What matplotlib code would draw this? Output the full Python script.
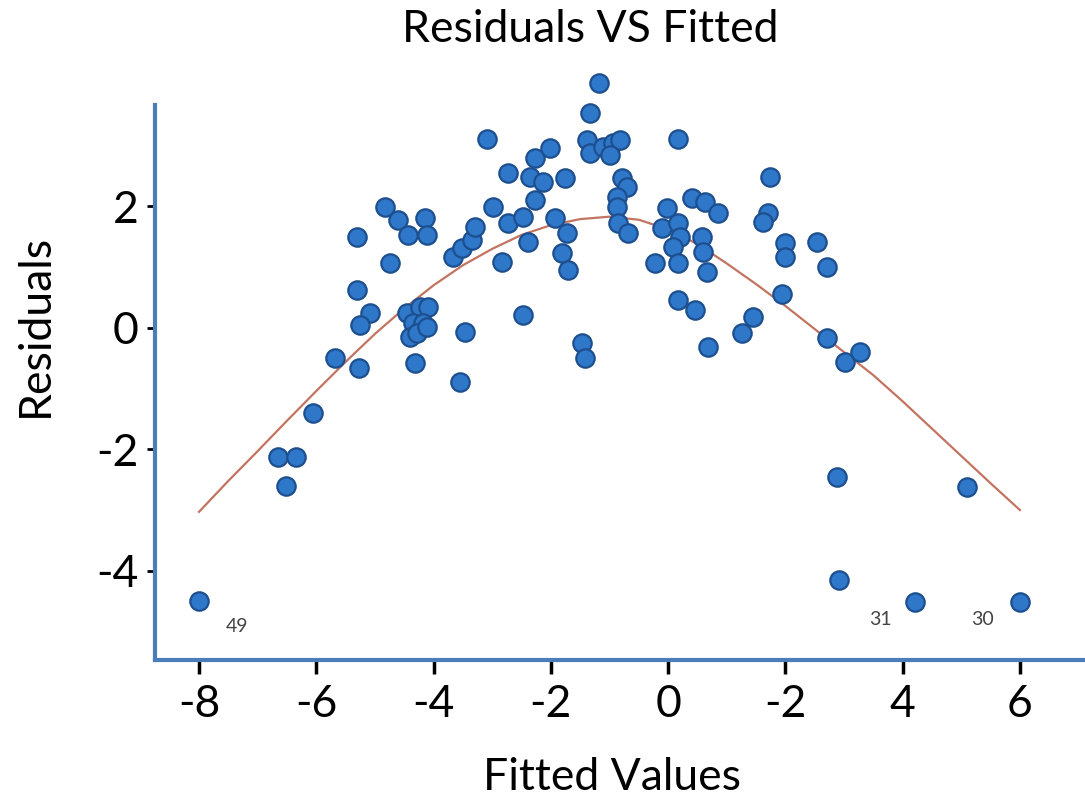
import matplotlib
matplotlib.use("Agg")
import matplotlib.pyplot as plt

# fitted values / residuals
fitted = [
    -8.00, -6.65, -6.34, -6.51, -6.05, -5.68, -5.27, -5.30, -5.08, -5.25,
    -5.30, -4.74, -4.83, -4.60, -4.43, -4.14, -4.11, -4.45, -4.23, -4.09,
    -4.35, -4.18, -4.40, -4.28, -4.11, -4.31, -3.46, -3.55, -3.67, -3.51,
    -3.34, -3.29, -3.09, -2.98, -2.83, -2.73, -2.73, -2.47, -2.39, -2.47,
    -2.35, -2.27, -2.27, -2.13, -2.01, -1.93, -1.76, -1.72, -1.81, -1.71,
    -1.47, -1.42, -1.18, -1.33, -1.38, -1.33, -1.11, -0.94, -0.82, -0.99,
    -0.78, -0.70, -0.87, -0.87, -0.85, -0.68, 0.17, -0.22, -0.10, -0.02,
    0.17, 0.20, 0.09, 0.17, 0.41, 0.63, 0.85, 0.58, 0.60, 0.66,
    0.17, 0.46, 0.68, 1.26, 1.45, 1.74, 1.71, 1.62, 2.00, 2.00,
    1.94, 2.54, 2.71, 2.71, 3.02, 3.27, 2.88, 2.92, 4.21, 5.10, 6.00,
]
residuals = [
    -4.49, -2.12, -2.12, -2.60, -1.40, -0.49, -0.66, 0.63, 0.25, 0.05,
    1.50, 1.07, 1.99, 1.78, 1.53, 1.81, 1.53, 0.25, 0.35, 0.35,
    0.08, 0.08, -0.15, -0.08, 0.02, -0.58, -0.07, -0.89, 1.17, 1.32,
    1.45, 1.66, 3.11, 1.99, 1.09, 2.55, 1.73, 1.83, 1.42, 0.21,
    2.49, 2.80, 2.11, 2.40, 2.96, 1.81, 2.47, 1.56, 1.23, 0.95,
    -0.25, -0.49, 4.03, 3.54, 3.09, 2.88, 2.98, 3.05, 3.09, 2.85,
    2.47, 2.32, 2.16, 1.99, 1.73, 1.56, 3.11, 1.07, 1.65, 1.98,
    1.73, 1.50, 1.33, 1.07, 2.14, 2.07, 1.89, 1.50, 1.25, 0.92,
    0.46, 0.30, -0.31, -0.08, 0.18, 2.49, 1.89, 1.74, 1.40, 1.17,
    0.56, 1.42, 1.00, -0.16, -0.56, -0.40, -2.45, -4.15, -4.51, -2.62, -4.51,
]

# smooth trend line
trend_x = [-8.00, -7.50, -7.00, -6.50, -6.00, -5.50, -5.00, -4.50, -4.00, -3.50,
           -3.00, -2.50, -2.00, -1.50, -1.00, -0.50, 0.00, 0.50, 1.00, 1.50,
           2.00, 2.50, 3.00, 3.50, 4.00, 4.50, 5.00, 5.50, 6.00]
trend_y = [-3.03, -2.52, -2.03, -1.53, -1.04, -0.56, -0.10, 0.32, 0.70, 1.03,
           1.30, 1.53, 1.69, 1.79, 1.83, 1.78, 1.62, 1.38, 1.06, 0.72,
           0.36, -0.02, -0.40, -0.78, -1.21, -1.66, -2.11, -2.56, -3.00]

# labelled outliers: (label, index into the point lists)
outliers = [("49", 0), ("31", 98), ("30", 100)]

x_ticks = [-8, -6, -4, -2, 0, 2, 4, 6]
x_tick_labels = ["-8", "-6", "-4", "-2", "0", "-2", "4", "6"]
y_ticks = [-4, -2, 0, 2]
y_tick_labels = ["-4", "-2", "0", "2"]

plt.rcParams['font.family'] = ['Lato', 'DejaVu Sans']

fig = plt.figure(figsize=(10.85, 7.98), dpi=100)
ax = fig.add_axes([0.1429, 0.1729, 0.8571, 0.758])

ax.plot(trend_x, trend_y, color='#c27461', lw=1.6, zorder=2)
ax.scatter(fitted, residuals, s=175, color='#2f77c9', edgecolors='#1d4f8f',
           linewidths=1.6, zorder=3)

offsets = {"49": (38, -26), "31": (-35, -18), "30": (-37, -18)}
for lab, i in outliers:
    ax.annotate(lab, (fitted[i], residuals[i]), xytext=offsets[lab],
                textcoords='offset pixels', ha='center', va='center',
                fontsize=14, color='#444444')

ax.set_xlim(-8.75, 7.11)
ax.set_ylim(-5.47, 4.49)
ax.set_xticks(x_ticks)
ax.set_xticklabels(x_tick_labels)
ax.set_yticks(y_ticks)
ax.set_yticklabels(y_tick_labels)
ax.tick_params(axis='x', length=10, width=2.5, pad=7, labelsize=32, color='black')
ax.tick_params(axis='y', length=6, width=2, pad=6, labelsize=32, color='black')

for side in ['top', 'right']:
    ax.spines[side].set_visible(False)
for side in ['left', 'bottom']:
    ax.spines[side].set_color('#4a7ebb')
    ax.spines[side].set_linewidth(3)
ax.spines['left'].set_bounds(-5.47, 3.67)

fig.text(590 / 1085, 1 - 30 / 798, 'Residuals VS Fitted', ha='center', va='center', fontsize=32)
fig.text(612 / 1085, 1 - 778 / 798, 'Fitted Values', ha='center', va='center', fontsize=32)
fig.text(35 / 1085, 1 - 325 / 798, 'Residuals', ha='center', va='center', fontsize=32, rotation=90)

fig.savefig('out.png', dpi=100)
